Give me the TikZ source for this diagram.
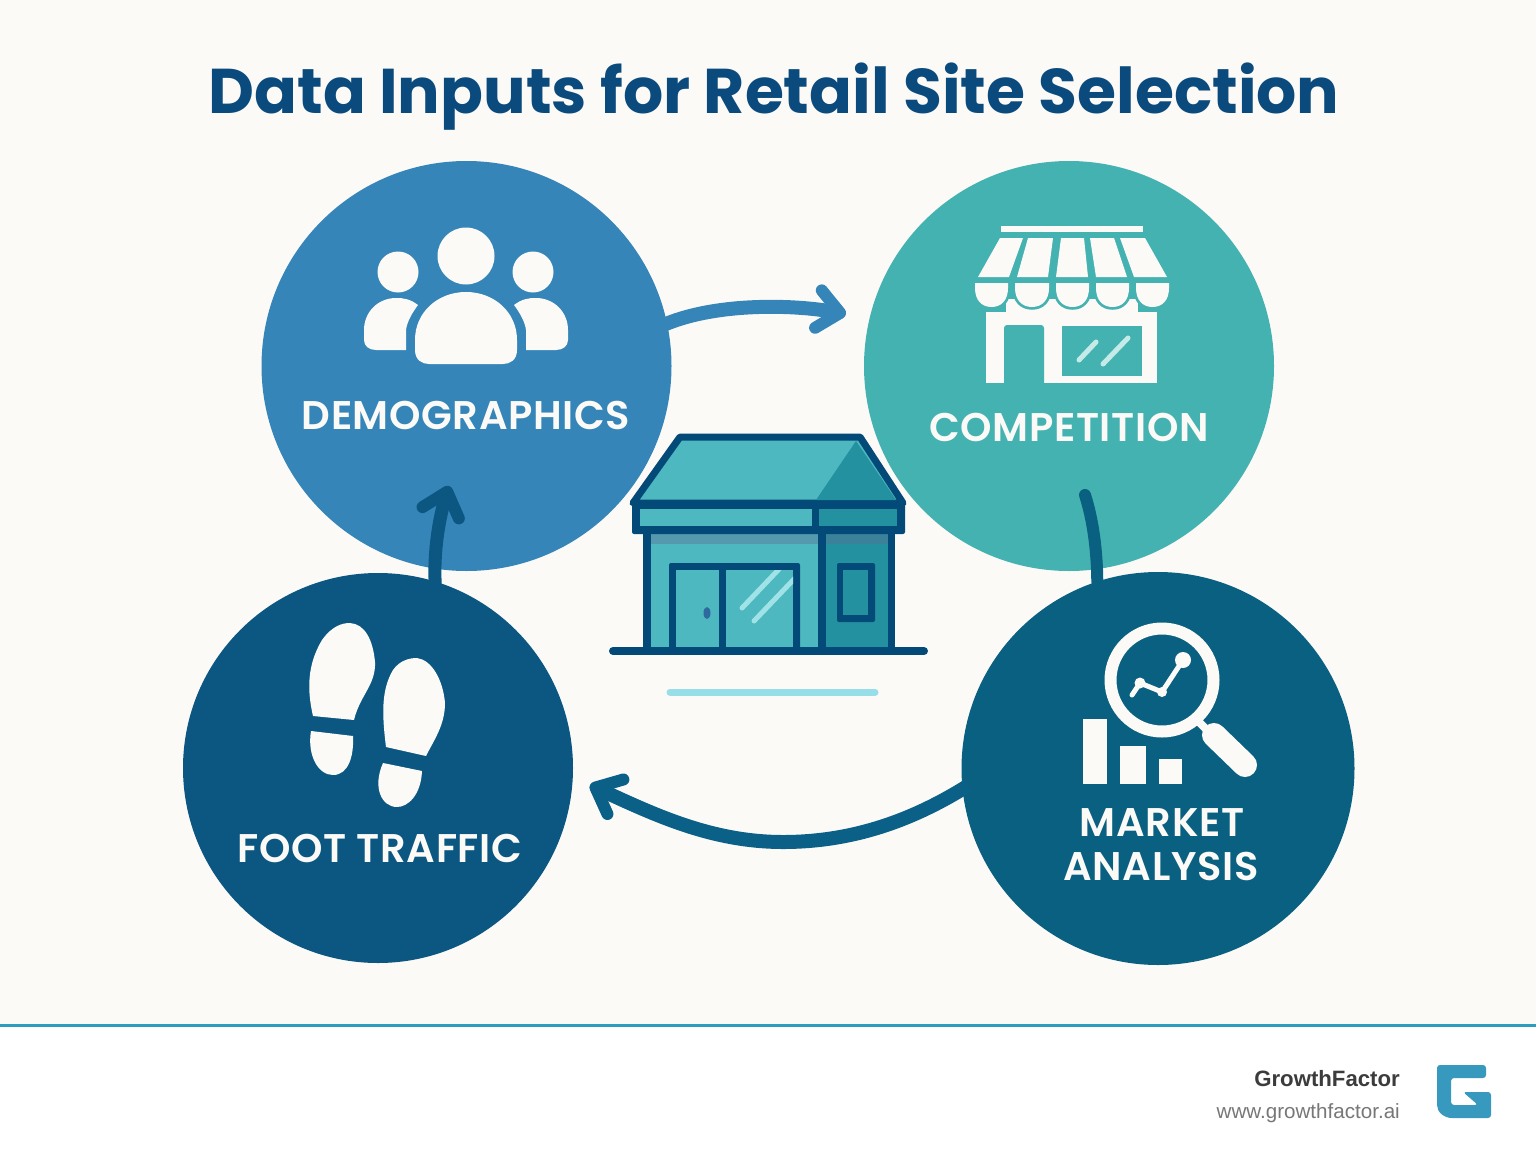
\documentclass[tikz,border=0pt]{standalone}
\usepackage{fontspec}
\setmainfont{Poppins}
\newfontfamily\labfont[LetterSpace=1.6]{Poppins SemiBold}
\newfontfamily\footfont{Liberation Sans}
\usetikzlibrary{arrows.meta}
\definecolor{bgc}{HTML}{FCFAF7}
\definecolor{titlec}{HTML}{0A4A7C}
\definecolor{democ}{HTML}{3585B9}
\definecolor{compc}{HTML}{45B2B2}
\definecolor{footc}{HTML}{0B5782}
\definecolor{markc}{HTML}{0A6080}
\definecolor{flowc}{HTML}{0A6086}
\definecolor{navy}{HTML}{044A78}
\definecolor{roofl}{HTML}{4DB8C0}
\definecolor{roofd}{HTML}{23919F}
\definecolor{glare}{HTML}{9FE3E6}
\definecolor{under}{HTML}{98DEE8}
\definecolor{rulec}{HTML}{2E9CBD}
\definecolor{logoc}{HTML}{3799BD}
\definecolor{shopglare}{HTML}{C5EBE8}
\definecolor{bandl}{HTML}{5599AE}
\definecolor{bandd}{HTML}{3A8199}
\definecolor{knob}{HTML}{2F6A9F}
\definecolor{gfc}{HTML}{3C3C3C}
\definecolor{webc}{HTML}{777777}
\tikzset{
  disc/.style={circle,inner sep=0pt,outer sep=0pt,minimum size=#1},
  lab/.style={text=bgc,font=\labfont\fontsize{40}{40}\selectfont,inner sep=0pt,anchor=base},
  icon/.style={fill=bgc,draw=none},
  flow/.style={line cap=round,line join=round},
  barb/.style={line cap=butt,shorten <=-6pt,-{Straight Barb[length=22pt,width=38pt,line width=12pt,round]}},
  nv/.style={draw=navy,line width=7pt,line join=round},
}
\begin{document}
\begin{tikzpicture}[x=1pt,y=-1pt]
\useasboundingbox (0,0) rectangle (1536,1154);
\fill[white] (0,0) rectangle (1536,1154);
\fill[bgc] (0,0) rectangle (1536,1025);
\draw[rulec,line width=3pt] (0,1025) -- (1536,1025);
\node[text=titlec,inner sep=0pt,anchor=base] (title) at (774,113) {\fontsize{63.2}{64}\selectfont\bfseries Data Inputs for Retail Site Selection};
% discs
\node[disc=410pt,fill=democ] (demo) at (466.5,366) {};
\node[disc=410pt,fill=compc] (comp) at (1069,366) {};
\node[disc=390pt,fill=footc] (foot) at (378,768) {};
\node[disc=393pt,fill=markc] (mark) at (1158,768.5) {};
% labels
\node[lab] (l1) at (466,429) {DEMOGRAPHICS};
\node[lab] (l2) at (1069,441) {COMPETITION};
\node[lab] (l3) at (380,862) {FOOT TRAFFIC};
\node[lab] (l4) at (1162,836) {MARKET};
\node[lab] (l5) at (1161,880) {ANALYSIS};
% connectors
\coordinate (a1) at (846,314);
\coordinate (a2) at (1085,495);
\coordinate (a3) at (590,785);
\coordinate (a4) at (449,486);
\draw[democ,line width=14pt,barb] (demo.12) .. controls (712,303) and (790,304) .. (a1);
\draw[markc,line width=12pt,flow] (a2) .. controls (1093,520) and (1097,550) .. (mark.108);
\draw[flowc,line width=14pt,barb] (mark.186) .. controls (910,822) and (850,842) .. (783,842) .. controls (712,842) and (655,815) .. (a3);
\draw[footc,line width=13pt,barb] (foot.73) .. controls (433,550) and (440,515) .. (a4);
% people icon
\fill[icon] (466,256) circle (28.5);
\fill[icon] (398,272) circle (20.5);
\fill[icon] (533,272) circle (20.5);
\fill[icon] (415,340) .. controls (415,312) and (438,292) .. (466,292) .. controls (494,292) and (517,312) .. (517,340) -- (517,350) .. controls (517,360) and (510,364) .. (503,364) -- (429,364) .. controls (422,364) and (415,360) .. (415,350) -- cycle;
\fill[icon] (418,305) .. controls (410,299) and (404,298) .. (396,298) .. controls (378,298) and (364,312) .. (364,330) -- (364,340) .. controls (364,346) and (369,350) .. (376,350) -- (406,350) -- (406,330) .. controls (407,322) and (412,313) .. (418,305) -- cycle;
\fill[icon] (514,305) .. controls (522,299) and (528,298) .. (536,298) .. controls (554,298) and (568,312) .. (568,330) -- (568,340) .. controls (568,346) and (563,350) .. (556,350) -- (526,350) -- (526,330) .. controls (525,322) and (520,313) .. (514,305) -- cycle;
% shop icon
\fill[icon] (1001,226) rectangle (1143,232);
\fill[icon] (1000,238) -- (1023,238) -- (1009,277) -- (978,277) -- cycle;
\fill[icon] (1028,238) -- (1053,238) -- (1048,277) -- (1017,277) -- cycle;
\fill[icon] (1061,238) -- (1084,238) -- (1088,277) -- (1056,277) -- cycle;
\fill[icon] (1090,238) -- (1114,238) -- (1127,277) -- (1096,277) -- cycle;
\fill[icon] (1120,238) -- (1145,238) -- (1167,277) -- (1134,277) -- cycle;
\fill[icon] (986,312) rectangle (1157,383);
\fill[icon] (1006,299) rectangle (1138,312);
\foreach \xa/\xb in {975/1008,1015/1049,1056/1089,1096/1129,1136/1169}{
  \pgfmathsetmacro{\xm}{(\xa+\xb)/2}
  \filldraw[fill=bgc,draw=compc,line width=5.5pt] (\xa,283) -- (\xa,288) .. controls (\xa,300) and ({\xm-10},307) .. (\xm,307) .. controls ({\xm+10},307) and (\xb,300) .. (\xb,288) -- (\xb,283) -- cycle;
  \fill[bgc] (\xa,283) -- (\xa,288) .. controls (\xa,300) and ({\xm-10},307) .. (\xm,307) .. controls ({\xm+10},307) and (\xb,300) .. (\xb,288) -- (\xb,283) -- cycle;
}
\fill[compc,rounded corners=3pt] (1004,390) -- (1004,325) -- (1044,325) -- (1044,390) -- cycle;
\fill[compc] (1000,383) rectangle (1048,392);
\fill[compc] (1062,326) rectangle (1142,376);
\draw[shopglare,line width=5pt,line cap=round] (1079,360) -- (1096,342) (1103,364) -- (1128,338);
% footprints
\fill[icon] (313,716) .. controls (307,690) and (307,665) .. (322,640) .. controls (332,626) and (342,623) .. (350,623) .. controls (365,624) and (373,640) .. (375,662) .. controls (376,685) and (360,695) .. (354,720) -- cycle;
\fill[icon] (311,731) -- (353,736) .. controls (354,755) and (349,775) .. (333,775) .. controls (318,775) and (307,755) .. (311,731) -- cycle;
\fill[icon] (386,747) .. controls (382,715) and (381,690) .. (393,670) .. controls (400,660) and (410,658) .. (417,658) .. controls (432,660) and (443,680) .. (445,703) .. controls (445,725) and (434,740) .. (426,756) -- cycle;
\fill[icon] (383,763) -- (422,771) .. controls (421,795) and (408,807) .. (397,807) .. controls (382,807) and (372,788) .. (383,763) -- cycle;
% magnifier
\draw[bgc,line width=12pt] (1162,680) circle (51.5);
\draw[bgc,line width=8pt] (1197,720) -- (1212,735);
\draw[bgc,line width=24pt,line cap=round] (1214,735) -- (1245,765);
\draw[bgc,line width=5pt,line cap=round,line join=round] (1132,695) -- (1140,683) -- (1162,692) -- (1183,660);
\fill[bgc] (1140,683) circle (5.5) (1162,692) circle (5) (1183,660) circle (8);
\fill[icon] (1083,719) rectangle (1107,784);
\fill[icon] (1120,746) rectangle (1146,784);
\fill[icon] (1159,759) rectangle (1182,784);
% store
\filldraw[nv,fill=roofl] (680,437) -- (860,437) -- (903,503) -- (633,503) -- cycle;
\fill[roofd] (856,441) -- (896,500) -- (816,500) -- cycle;
\fill[roofl] (651,533) rectangle (822,647);
\fill[roofd] (822,533) rectangle (888,647);
\fill[bandl] (651,534) rectangle (822,544);
\fill[bandd] (822,534) rectangle (888,544);
\fill[navy] (643,533) rectangle (651,650);
\fill[navy] (888,533) rectangle (895,650);
\fill[navy] (818,533) rectangle (826,650);
\fill[navy,rounded corners=2pt] (632,503) rectangle (905,534);
\fill[roofl] (640,509) rectangle (812,526);
\fill[roofd] (819,509) rectangle (897,526);
\fill[navy,rounded corners=2pt] (669,563) rectangle (800,650);
\fill[roofl] (676,570) rectangle (719,647);
\fill[roofl] (726,570) rectangle (793,647);
\begin{scope}
\clip (726,570) rectangle (793,647);
\draw[glare,line width=5pt,line cap=round] (742,608) -- (782,566) (754,621) -- (797,576);
\end{scope}
\fill[knob] (707,613) ellipse (3.5 and 6);
\fill[navy,rounded corners=2pt] (837,563) rectangle (875,622);
\fill[roofd] (843,570) rectangle (868,615);
\draw[navy,line width=8pt,line cap=round] (613,651) -- (924,651);
\draw[under,line width=7pt,line cap=round] (670,692) -- (875,692);
% footer
\node[inner sep=0pt,anchor=base east,text=gfc] (gf) at (1400,1086) {\footfont\fontsize{22.2}{24}\selectfont\bfseries GrowthFactor};
\node[inner sep=0pt,anchor=base east,text=webc] (web) at (1400,1118) {\footfont\fontsize{20.6}{22}\selectfont www.growthfactor.ai};
\fill[logoc,rounded corners=3pt] (1437,1065) -- (1486,1065) -- (1486,1078) -- (1451,1078) -- (1451,1105) -- (1478,1105) -- (1463,1092) -- (1491,1092) -- (1491,1118) -- (1455,1118) .. controls (1444,1118) and (1437,1112) .. (1437,1102) -- cycle;
\end{tikzpicture}
\end{document}
